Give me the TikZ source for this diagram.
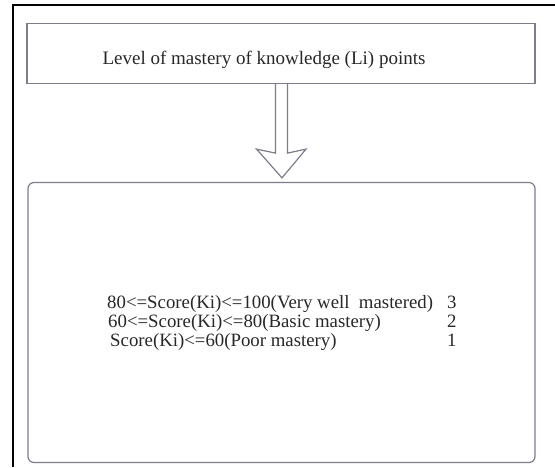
\documentclass[tikz,border=0pt]{standalone}
\usepackage{fontspec}
\setmainfont{Liberation Serif}
\usetikzlibrary{calc}
\definecolor{boxline}{RGB}{125,125,140}
\definecolor{ink}{RGB}{40,40,40}
\begin{document}
\begin{tikzpicture}[x=1pt,y=-1pt,
  panel/.style={draw=boxline,line width=1.2pt,inner sep=0pt},
  rowtext/.style={anchor=base west,inner sep=0pt,text=ink,font=\fontsize{18.8}{20}\selectfont},
  heading/.style={text=ink,font=\fontsize{19}{21}\selectfont}]
  \useasboundingbox (0,0) rectangle (555,467);
  \fill[white] (0,0) rectangle (555,467);
  % outer frame (left and top edges)
  \draw[black,line width=2pt] (12.5,467) -- (12.5,5) -- (555,5);

  % heading box
  \node[panel,minimum width=508pt,minimum height=60pt] (top) at (281,53.5) {};
  \node[heading,anchor=base] (title) at (264,64) {Level of mastery of knowledge (Li) points};

  % result box
  \node[panel,rounded corners=6pt,minimum width=507pt,minimum height=280pt] (bottom) at (281.5,322.5) {};

  % hollow block arrow from heading box to result box
  \draw[boxline,line width=1.2pt,line join=miter]
    ($(top.south)+(-5.5,0)$) -- ++(0,69) -- ++(-19,-4) -- ($(bottom.north)+(0.5,-4)$)
    -- ($(top.south)+(25,65)$) -- ($(top.south)+(6.5,69)$) -- ($(top.south)+(6.5,0)$);

  % score ranges and levels
  \node[rowtext] (r1) at (107,308) {80<=Score(Ki)<=100(Very well\ \ mastered)};
  \node[rowtext] (r2) at (108,327) {60<=Score(Ki)<=80(Basic mastery)};
  \node[rowtext] (r3) at (110,346) {Score(Ki)<=60(Poor mastery)};
  \node[rowtext] (v1) at (447,308) {3};
  \node[rowtext] (v2) at (447,327) {2};
  \node[rowtext] (v3) at (447,346) {1};
\end{tikzpicture}
\end{document}
